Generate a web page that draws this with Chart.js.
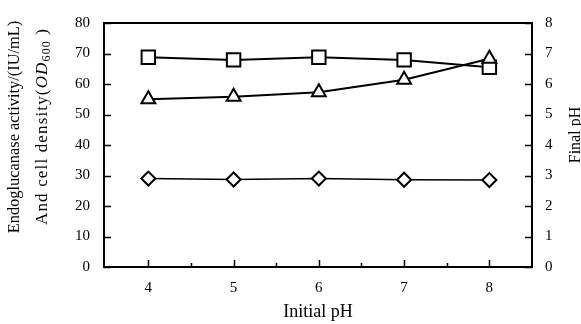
<!DOCTYPE html>
<html>
<head>
<meta charset="utf-8">
<script src="https://cdn.jsdelivr.net/npm/chart.js@4/dist/chart.umd.min.js"></script>
<style>
  html, body { margin: 0; padding: 0; background: #fff; }
  #wrap { width: 581px; height: 324px; position: relative; }
</style>
</head>
<body>
<div id="wrap"><canvas id="phChart"></canvas></div>
<script>
const initialPH = [4, 5, 6, 7, 8];
const cellDensity = [68.8, 67.9, 68.8, 67.9, 65.5];   // squares, left axis
const finalPH = [5.50, 5.58, 5.73, 6.14, 6.83];        // triangles, right axis
const activity = [29.0, 28.7, 29.0, 28.6, 28.5];       // diamonds, left axis

const serif = 'Liberation Serif';

function toPoints(ys) {
    return initialPH.map((x, i) => ({ x: x, y: ys[i] }));
}

function makeSet(label, ys, style, radius, axis, order, lw) {
    return {
        label: label,
        data: toPoints(ys),
        yAxisID: axis,
        order: order,
        borderColor: '#000',
        borderWidth: lw,
        backgroundColor: '#fff',
        pointStyle: style,
        pointRadius: radius,
        pointBorderWidth: 2,
        pointBackgroundColor: '#fff',
        pointBorderColor: '#000',
        fill: false,
        tension: 0
    };
}

// draws pieces [text, font, dy] spread out to a given total length
function spreadText(c, parts, total, y) {
    let natural = 0, count = 0;
    parts.forEach(p => {
        c.font = p[1];
        natural += c.measureText(p[0]).width;
        count += p[0].length;
    });
    const gap = Math.max(0, (total - natural) / (count - 1));
    let x = -Math.max(total, natural) / 2;
    c.textAlign = 'left';
    parts.forEach(p => {
        c.font = p[1];
        for (const ch of p[0]) {
            c.fillText(ch, x, y + p[2]);
            x += c.measureText(ch).width + gap;
        }
    });
}

// frame, inward ticks and hand-set axis titles
const frameAndTitles = {
    id: 'frameAndTitles',
    afterDatasetsDraw(chart) {
        const c = chart.ctx;
        const a = chart.chartArea;
        const xs = chart.scales.x, yl = chart.scales.y, yr = chart.scales.y1;
        c.save();
        c.strokeStyle = '#000';
        c.lineWidth = 2;
        c.strokeRect(a.left, a.top, a.right - a.left, a.bottom - a.top);
        c.lineWidth = 1.5;
        c.beginPath();
        yl.ticks.forEach(t => {
            const py = Math.round(yl.getPixelForValue(t.value)) + 0.5;
            c.moveTo(a.left, py); c.lineTo(a.left + 7, py);
        });
        yr.ticks.forEach(t => {
            const py = Math.round(yr.getPixelForValue(t.value)) + 0.5;
            c.moveTo(a.right, py); c.lineTo(a.right - 7, py);
        });
        xs.ticks.forEach(t => {
            const px = Math.round(xs.getPixelForValue(t.value)) + 0.5;
            c.moveTo(px, a.bottom); c.lineTo(px, a.bottom - 7);
            if (t.value + 0.5 < xs.max) {
                const pm = Math.round(xs.getPixelForValue(t.value + 0.5)) + 0.5;
                c.moveTo(pm, a.bottom); c.lineTo(pm, a.bottom - 4);
            }
        });
        c.stroke();
        c.restore();
    },
    afterDraw(chart) {
        const c = chart.ctx;
        const f = (s, st) => (st || '') + ' ' + s + 'px "' + serif + '"';
        c.save();
        c.fillStyle = '#000';
        c.textBaseline = 'middle';
        // left title, two lines
        c.translate(16, 127);
        c.rotate(-Math.PI / 2);
        c.textAlign = 'center';
        c.font = f(16.4);
        c.fillText('Endoglucanase activity/(IU/mL)', 0, -1);
        spreadText(c, [
            ['And cell density(', f(17), 0],
            ['OD', f(17, 'italic'), 0],
            ['600', f(12), 4],
            [' )', f(17), 0]
        ], 196, 27);
        c.restore();
        // right title, partly cut by the edge
        c.save();
        c.fillStyle = '#000';
        c.textBaseline = 'middle';
        c.textAlign = 'center';
        c.font = f(16);
        c.translate(576, 135);
        c.rotate(-Math.PI / 2);
        c.fillText('Final pH', 0, 0);
        c.restore();
    }
};

const ctx = document.getElementById('phChart').getContext('2d');
const tickFont = { family: serif, size: 15 };

new Chart(ctx, {
    type: 'line',
    data: {
        datasets: [
            makeSet('Final pH', finalPH, 'triangle', 8, 'y1', 0, 2),
            makeSet('Cell density', cellDensity, 'rect', 9.5, 'y', 1, 2),
            makeSet('Endoglucanase activity', activity, 'rectRot', 7, 'y', 2, 1.5)
        ]
    },
    options: {
        responsive: true,
        maintainAspectRatio: false,
        animation: false,
        layout: { padding: { top: 11, left: 0, right: 0, bottom: 0 } },
        plugins: {
            legend: { display: false },
            tooltip: { enabled: false }
        },
        scales: {
            x: {
                type: 'linear',
                min: 3.48,
                max: 8.5,
                afterFit(s) { s.height = 57; },
                afterBuildTicks(s) { s.ticks = initialPH.map(v => ({ value: v })); },
                grid: { display: false, drawTicks: false },
                border: { display: false },
                ticks: {
                    padding: 12,
                    color: '#000',
                    font: tickFont,
                    callback: v => v
                },
                title: {
                    display: true,
                    text: 'Initial pH',
                    color: '#000',
                    font: { family: serif, size: 18 },
                    padding: { top: 0, bottom: 1 }
                }
            },
            y: {
                position: 'left',
                min: 0,
                max: 80,
                afterFit(s) { s.width = 104; },
                grid: { display: false, drawTicks: false },
                border: { display: false },
                ticks: { stepSize: 10, padding: 14, color: '#000', font: tickFont }
            },
            y1: {
                position: 'right',
                min: 0,
                max: 8,
                afterFit(s) { s.width = 49; },
                grid: { display: false, drawTicks: false },
                border: { display: false },
                ticks: { stepSize: 1, padding: 13, color: '#000', font: tickFont }
            }
        }
    },
    plugins: [frameAndTitles]
});
</script>
</body>
</html>
